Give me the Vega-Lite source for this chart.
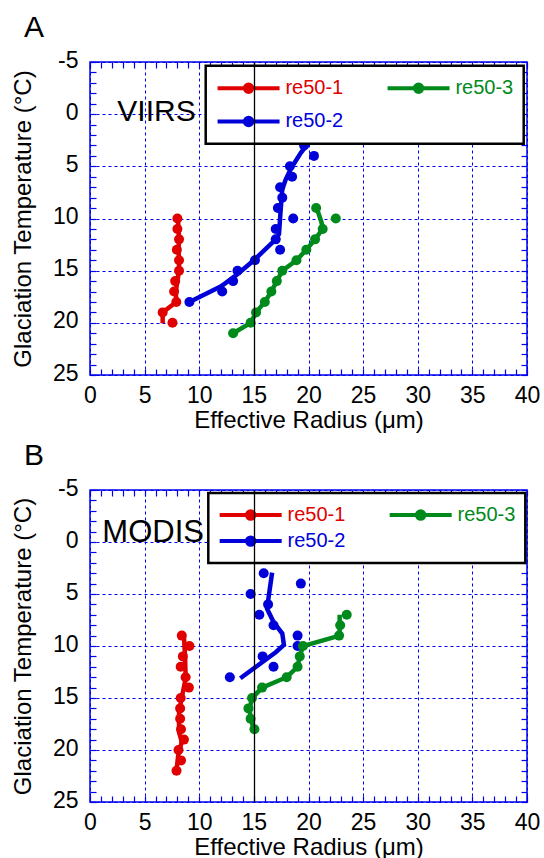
{
  "$schema": "https://vega.github.io/schema/vega-lite/v6.json",
  "background": "white",
  "padding": {"left": 10, "top": 12, "right": 5, "bottom": 0},
  "datasets": {
    "ptsA": [
      {"series": "re50-1", "re": 8.0, "t": 10}, {"series": "re50-1", "re": 8.0, "t": 11}, {"series": "re50-1", "re": 8.15, "t": 12},
      {"series": "re50-1", "re": 7.95, "t": 13}, {"series": "re50-1", "re": 8.15, "t": 14}, {"series": "re50-1", "re": 8.15, "t": 15},
      {"series": "re50-1", "re": 7.8, "t": 16}, {"series": "re50-1", "re": 7.7, "t": 17}, {"series": "re50-1", "re": 7.9, "t": 18},
      {"series": "re50-1", "re": 6.65, "t": 19}, {"series": "re50-1", "re": 7.55, "t": 20},
      {"series": "re50-2", "re": 9.1, "t": 18}, {"series": "re50-2", "re": 12.1, "t": 17}, {"series": "re50-2", "re": 13.1, "t": 16},
      {"series": "re50-2", "re": 13.5, "t": 15}, {"series": "re50-2", "re": 15.1, "t": 14}, {"series": "re50-2", "re": 17.4, "t": 13},
      {"series": "re50-2", "re": 17.0, "t": 12}, {"series": "re50-2", "re": 17.0, "t": 11}, {"series": "re50-2", "re": 18.6, "t": 10},
      {"series": "re50-2", "re": 17.2, "t": 9}, {"series": "re50-2", "re": 17.6, "t": 8}, {"series": "re50-2", "re": 17.4, "t": 7},
      {"series": "re50-2", "re": 18.5, "t": 6}, {"series": "re50-2", "re": 18.3, "t": 5}, {"series": "re50-2", "re": 20.5, "t": 4},
      {"series": "re50-2", "re": 19.6, "t": 3},
      {"series": "re50-3", "re": 20.7, "t": 9}, {"series": "re50-3", "re": 22.5, "t": 10}, {"series": "re50-3", "re": 21.3, "t": 11},
      {"series": "re50-3", "re": 20.6, "t": 12}, {"series": "re50-3", "re": 19.8, "t": 13}, {"series": "re50-3", "re": 18.9, "t": 14},
      {"series": "re50-3", "re": 17.6, "t": 15}, {"series": "re50-3", "re": 17.1, "t": 16}, {"series": "re50-3", "re": 16.6, "t": 17},
      {"series": "re50-3", "re": 16.0, "t": 18}, {"series": "re50-3", "re": 15.2, "t": 19}, {"series": "re50-3", "re": 14.7, "t": 20},
      {"series": "re50-3", "re": 13.1, "t": 21}
    ],
    "fitA": [
      {"series": "re50-1", "re": 8.05, "t": 10}, {"series": "re50-1", "re": 8.1, "t": 11}, {"series": "re50-1", "re": 8.15, "t": 12},
      {"series": "re50-1", "re": 8.1, "t": 13}, {"series": "re50-1", "re": 8.15, "t": 14}, {"series": "re50-1", "re": 8.15, "t": 15},
      {"series": "re50-1", "re": 8.0, "t": 16}, {"series": "re50-1", "re": 7.85, "t": 17}, {"series": "re50-1", "re": 7.9, "t": 18},
      {"series": "re50-1", "re": 6.65, "t": 19}, {"series": "re50-1", "re": 6.65, "t": 20.05},
      {"series": "re50-2", "re": 9.1, "t": 18}, {"series": "re50-2", "re": 12.0, "t": 16.5}, {"series": "re50-2", "re": 13.3, "t": 15.5},
      {"series": "re50-2", "re": 15.0, "t": 14}, {"series": "re50-2", "re": 17.0, "t": 12}, {"series": "re50-2", "re": 17.3, "t": 11.5},
      {"series": "re50-2", "re": 17.45, "t": 9.2}, {"series": "re50-2", "re": 17.6, "t": 7.2}, {"series": "re50-2", "re": 17.9, "t": 6.3},
      {"series": "re50-2", "re": 18.4, "t": 5.2}, {"series": "re50-2", "re": 19.3, "t": 3.7}, {"series": "re50-2", "re": 20.7, "t": 1.8},
      {"series": "re50-2", "re": 21.3, "t": 1.0},
      {"series": "re50-3", "re": 20.75, "t": 9}, {"series": "re50-3", "re": 21.2, "t": 10.4}, {"series": "re50-3", "re": 21.3, "t": 11},
      {"series": "re50-3", "re": 20.6, "t": 12}, {"series": "re50-3", "re": 19.8, "t": 13}, {"series": "re50-3", "re": 18.9, "t": 14},
      {"series": "re50-3", "re": 17.6, "t": 15}, {"series": "re50-3", "re": 17.1, "t": 16}, {"series": "re50-3", "re": 16.6, "t": 17},
      {"series": "re50-3", "re": 16.0, "t": 18}, {"series": "re50-3", "re": 15.2, "t": 19}, {"series": "re50-3", "re": 14.7, "t": 20},
      {"series": "re50-3", "re": 13.1, "t": 21}
    ],
    "ptsB": [
      {"series": "re50-1", "re": 8.4, "t": 9}, {"series": "re50-1", "re": 9.1, "t": 10}, {"series": "re50-1", "re": 8.5, "t": 11},
      {"series": "re50-1", "re": 8.3, "t": 12}, {"series": "re50-1", "re": 8.75, "t": 13}, {"series": "re50-1", "re": 9.05, "t": 14},
      {"series": "re50-1", "re": 8.3, "t": 15}, {"series": "re50-1", "re": 8.25, "t": 16}, {"series": "re50-1", "re": 8.25, "t": 17},
      {"series": "re50-1", "re": 8.33, "t": 18}, {"series": "re50-1", "re": 8.6, "t": 19}, {"series": "re50-1", "re": 8.1, "t": 20},
      {"series": "re50-1", "re": 8.33, "t": 21}, {"series": "re50-1", "re": 7.92, "t": 22},
      {"series": "re50-2", "re": 15.9, "t": 3}, {"series": "re50-2", "re": 19.3, "t": 4}, {"series": "re50-2", "re": 14.7, "t": 5},
      {"series": "re50-2", "re": 16.3, "t": 6}, {"series": "re50-2", "re": 15.5, "t": 7}, {"series": "re50-2", "re": 16.8, "t": 8},
      {"series": "re50-2", "re": 19.0, "t": 9}, {"series": "re50-2", "re": 19.0, "t": 10}, {"series": "re50-2", "re": 15.8, "t": 11},
      {"series": "re50-2", "re": 16.8, "t": 12}, {"series": "re50-2", "re": 12.8, "t": 13},
      {"series": "re50-3", "re": 23.5, "t": 7}, {"series": "re50-3", "re": 22.9, "t": 8}, {"series": "re50-3", "re": 22.8, "t": 9},
      {"series": "re50-3", "re": 19.5, "t": 10}, {"series": "re50-3", "re": 19.2, "t": 11}, {"series": "re50-3", "re": 19.0, "t": 12},
      {"series": "re50-3", "re": 18.0, "t": 13}, {"series": "re50-3", "re": 15.75, "t": 14}, {"series": "re50-3", "re": 14.83, "t": 15},
      {"series": "re50-3", "re": 14.5, "t": 16}, {"series": "re50-3", "re": 14.7, "t": 17}, {"series": "re50-3", "re": 15.05, "t": 18}
    ],
    "fitB": [
      {"series": "re50-1", "re": 8.6, "t": 9.1}, {"series": "re50-1", "re": 8.7, "t": 11}, {"series": "re50-1", "re": 8.76, "t": 13.1},
      {"series": "re50-1", "re": 8.45, "t": 14.7}, {"series": "re50-1", "re": 8.15, "t": 16.3}, {"series": "re50-1", "re": 8.15, "t": 18.3},
      {"series": "re50-1", "re": 8.4, "t": 19.2}, {"series": "re50-1", "re": 8.08, "t": 20.5}, {"series": "re50-1", "re": 7.93, "t": 21.8},
      {"series": "re50-2", "re": 16.67, "t": 2.95}, {"series": "re50-2", "re": 16.2, "t": 6.4}, {"series": "re50-2", "re": 16.8, "t": 7.7},
      {"series": "re50-2", "re": 17.6, "t": 8.8}, {"series": "re50-2", "re": 17.75, "t": 9.9}, {"series": "re50-2", "re": 17.0, "t": 10.6},
      {"series": "re50-2", "re": 13.76, "t": 13.1},
      {"series": "re50-3", "re": 22.85, "t": 7}, {"series": "re50-3", "re": 22.85, "t": 9}, {"series": "re50-3", "re": 19.5, "t": 10},
      {"series": "re50-3", "re": 19.2, "t": 11}, {"series": "re50-3", "re": 19.0, "t": 12}, {"series": "re50-3", "re": 18.0, "t": 13},
      {"series": "re50-3", "re": 15.75, "t": 14}, {"series": "re50-3", "re": 14.85, "t": 15}, {"series": "re50-3", "re": 14.6, "t": 16},
      {"series": "re50-3", "re": 14.7, "t": 17}, {"series": "re50-3", "re": 15.0, "t": 18}
    ]
  },
  "spacing": 7,
  "resolve": {"scale": {"color": "independent"}, "legend": {"color": "independent"}},
  "vconcat": [
    {
      "width": 437, "height": 313,
      "title": {"text": "A", "anchor": "start", "frame": "group", "dx": -66, "offset": 6, "fontSize": 30, "fontWeight": "normal", "font": "Arial", "color": "black"},
      "resolve": {"axis": {"x": "independent", "y": "independent"}},
      "layer": [
        {
          "data": {"name": "fitA"},
          "mark": {"type": "line", "strokeWidth": 4.5},
          "encoding": {
            "x": {"field": "re", "type": "quantitative", "scale": {"domain": [0, 40], "nice": false, "zero": false},
              "axis": {"orient": "top", "values": [0,1,2,3,4,5,6,7,8,9,10,11,12,13,14,15,16,17,18,19,20,21,22,23,24,25,26,27,28,29,30,31,32,33,34,35,36,37,38,39,40], "labels": false, "grid": false, "title": null}},
            "y": {"field": "t", "type": "quantitative", "scale": {"domain": [-5, 25], "reverse": true, "nice": false, "zero": false},
              "axis": {"orient": "right", "values": [-5,-4,-3,-2,-1,0,1,2,3,4,5,6,7,8,9,10,11,12,13,14,15,16,17,18,19,20,21,22,23,24,25], "labels": false, "grid": false, "title": null}},
            "color": {"field": "series", "type": "nominal", "scale": {"domain": ["re50-1", "re50-2", "re50-3"], "range": ["#e00000", "#0000d8", "#008a1c"]},
              "legend": {"title": null, "orient": "none", "legendX": 115.7, "legendY": 3.7, "columns": 2, "columnPadding": 36, "rowPadding": 8.6, "padding": 9.7, "labelFontSize": 20, "labelFont": "Arial", "labelOffset": 45, "strokeColor": "black", "fillColor": "white", "cornerRadius": 0,
                "encode": {
                  "legend": {"update": {"strokeWidth": {"value": 2.5}}},
                  "symbols": {"update": {"shape": {"value": "M-1,0H5M1.64,0A0.36,0.36,0,1,0,2.36,0A0.36,0.36,0,1,0,1.64,0Z"}, "size": {"value": 427}, "strokeWidth": {"value": 4}, "opacity": {"value": 1},
                    "fill": {"signal": "datum.value === 're50-1' ? '#e00000' : datum.value === 're50-2' ? '#0000d8' : '#008a1c'"},
                    "stroke": {"signal": "datum.value === 're50-1' ? '#e00000' : datum.value === 're50-2' ? '#0000d8' : '#008a1c'"}}},
                  "labels": {"update": {"fill": {"signal": "datum.value === 're50-1' ? '#e00000' : datum.value === 're50-2' ? '#0000d8' : '#008a1c'"}}}
                }}},
            "order": {"field": "t", "type": "quantitative"}
          }
        },
        {
          "data": {"name": "ptsA"},
          "mark": {"type": "circle", "size": 100, "opacity": 1},
          "encoding": {
            "x": {"field": "re", "type": "quantitative", "scale": {"domain": [0, 40], "nice": false, "zero": false},
              "axis": {"orient": "bottom", "values": [0,1,2,3,4,5,6,7,8,9,10,11,12,13,14,15,16,17,18,19,20,21,22,23,24,25,26,27,28,29,30,31,32,33,34,35,36,37,38,39,40],
                "labelExpr": "datum.value % 5 === 0 ? '' + datum.value : ''", "grid": true,
                "gridOpacity": {"condition": {"test": "datum.value % 5 === 0", "value": 1}, "value": 0},
                "title": "Effective Radius (μm)", "labelPadding": 15, "titlePadding": 1}},
            "y": {"field": "t", "type": "quantitative", "scale": {"domain": [-5, 25], "reverse": true, "nice": false, "zero": false},
              "axis": {"orient": "left", "values": [-5,-4,-3,-2,-1,0,1,2,3,4,5,6,7,8,9,10,11,12,13,14,15,16,17,18,19,20,21,22,23,24,25],
                "labelExpr": "datum.value % 5 === 0 ? '' + datum.value : ''", "grid": true,
                "gridOpacity": {"condition": {"test": "datum.value % 5 === 0", "value": 1}, "value": 0},
                "title": "Glaciation Temperature (°C)", "labelPadding": 18, "labelOffset": -2, "titlePadding": 17}},
            "color": {"field": "series", "type": "nominal", "scale": {"domain": ["re50-1", "re50-2", "re50-3"], "range": ["#e00000", "#0000d8", "#008a1c"]},
              "legend": {"title": null, "orient": "none", "legendX": 115.7, "legendY": 3.7, "columns": 2, "columnPadding": 36, "rowPadding": 8.6, "padding": 9.7, "labelFontSize": 20, "labelFont": "Arial", "labelOffset": 45, "strokeColor": "black", "fillColor": "white", "cornerRadius": 0,
                "encode": {
                  "legend": {"update": {"strokeWidth": {"value": 2.5}}},
                  "symbols": {"update": {"shape": {"value": "M-1,0H5M1.64,0A0.36,0.36,0,1,0,2.36,0A0.36,0.36,0,1,0,1.64,0Z"}, "size": {"value": 427}, "strokeWidth": {"value": 4}, "opacity": {"value": 1},
                    "fill": {"signal": "datum.value === 're50-1' ? '#e00000' : datum.value === 're50-2' ? '#0000d8' : '#008a1c'"},
                    "stroke": {"signal": "datum.value === 're50-1' ? '#e00000' : datum.value === 're50-2' ? '#0000d8' : '#008a1c'"}}},
                  "labels": {"update": {"fill": {"signal": "datum.value === 're50-1' ? '#e00000' : datum.value === 're50-2' ? '#0000d8' : '#008a1c'"}}}
                }}}
          }
        },
        {
          "data": {"values": [{}]},
          "mark": {"type": "text", "fontSize": 30, "align": "left", "baseline": "alphabetic", "font": "Arial", "color": "black"},
          "encoding": {
            "x": {"datum": 2.5, "type": "quantitative",
              "axis": {"orient": "bottom", "values": [15], "labels": false, "ticks": false, "domain": false, "grid": true, "gridColor": "black", "gridDash": [], "gridWidth": 1.3, "gridOpacity": 1, "title": null, "zindex": 2}},
            "y": {"datum": 0.7, "type": "quantitative", "axis": null},
            "text": {"value": "VIIRS"}
          }
        }
      ]
    },
    {
      "width": 437, "height": 312,
      "title": {"text": "B", "anchor": "start", "frame": "group", "dx": -66, "offset": 6, "fontSize": 30, "fontWeight": "normal", "font": "Arial", "color": "black"},
      "resolve": {"axis": {"x": "independent", "y": "independent"}},
      "layer": [
        {
          "data": {"name": "fitB"},
          "mark": {"type": "line", "strokeWidth": 4.5},
          "encoding": {
            "x": {"field": "re", "type": "quantitative", "scale": {"domain": [0, 40], "nice": false, "zero": false},
              "axis": {"orient": "top", "values": [0,1,2,3,4,5,6,7,8,9,10,11,12,13,14,15,16,17,18,19,20,21,22,23,24,25,26,27,28,29,30,31,32,33,34,35,36,37,38,39,40], "labels": false, "grid": false, "title": null}},
            "y": {"field": "t", "type": "quantitative", "scale": {"domain": [-5, 25], "reverse": true, "nice": false, "zero": false},
              "axis": {"orient": "right", "values": [-5,-4,-3,-2,-1,0,1,2,3,4,5,6,7,8,9,10,11,12,13,14,15,16,17,18,19,20,21,22,23,24,25], "labels": false, "grid": false, "title": null}},
            "color": {"field": "series", "type": "nominal", "scale": {"domain": ["re50-1", "re50-2", "re50-3"], "range": ["#e00000", "#0000d8", "#008a1c"]},
              "legend": {"title": null, "orient": "none", "legendX": 118.3, "legendY": 3, "columns": 2, "columnPadding": 36, "rowPadding": 1.4, "padding": 9.2, "labelFontSize": 20, "labelFont": "Arial", "labelOffset": 45, "strokeColor": "black", "fillColor": "white", "cornerRadius": 0,
                "encode": {
                  "legend": {"update": {"strokeWidth": {"value": 2.5}}},
                  "symbols": {"update": {"shape": {"value": "M-1,0H5M1.64,0A0.36,0.36,0,1,0,2.36,0A0.36,0.36,0,1,0,1.64,0Z"}, "size": {"value": 427}, "strokeWidth": {"value": 4}, "opacity": {"value": 1},
                    "fill": {"signal": "datum.value === 're50-1' ? '#e00000' : datum.value === 're50-2' ? '#0000d8' : '#008a1c'"},
                    "stroke": {"signal": "datum.value === 're50-1' ? '#e00000' : datum.value === 're50-2' ? '#0000d8' : '#008a1c'"}}},
                  "labels": {"update": {"fill": {"signal": "datum.value === 're50-1' ? '#e00000' : datum.value === 're50-2' ? '#0000d8' : '#008a1c'"}}}
                }}},
            "order": {"field": "t", "type": "quantitative"}
          }
        },
        {
          "data": {"name": "ptsB"},
          "mark": {"type": "circle", "size": 100, "opacity": 1},
          "encoding": {
            "x": {"field": "re", "type": "quantitative", "scale": {"domain": [0, 40], "nice": false, "zero": false},
              "axis": {"orient": "bottom", "values": [0,1,2,3,4,5,6,7,8,9,10,11,12,13,14,15,16,17,18,19,20,21,22,23,24,25,26,27,28,29,30,31,32,33,34,35,36,37,38,39,40],
                "labelExpr": "datum.value % 5 === 0 ? '' + datum.value : ''", "grid": true,
                "gridOpacity": {"condition": {"test": "datum.value % 5 === 0", "value": 1}, "value": 0},
                "title": "Effective Radius (μm)", "labelPadding": 15, "titlePadding": 1}},
            "y": {"field": "t", "type": "quantitative", "scale": {"domain": [-5, 25], "reverse": true, "nice": false, "zero": false},
              "axis": {"orient": "left", "values": [-5,-4,-3,-2,-1,0,1,2,3,4,5,6,7,8,9,10,11,12,13,14,15,16,17,18,19,20,21,22,23,24,25],
                "labelExpr": "datum.value % 5 === 0 ? '' + datum.value : ''", "grid": true,
                "gridOpacity": {"condition": {"test": "datum.value % 5 === 0", "value": 1}, "value": 0},
                "title": "Glaciation Temperature (°C)", "labelPadding": 18, "labelOffset": -2, "titlePadding": 17}},
            "color": {"field": "series", "type": "nominal", "scale": {"domain": ["re50-1", "re50-2", "re50-3"], "range": ["#e00000", "#0000d8", "#008a1c"]},
              "legend": {"title": null, "orient": "none", "legendX": 118.3, "legendY": 3, "columns": 2, "columnPadding": 36, "rowPadding": 1.4, "padding": 9.2, "labelFontSize": 20, "labelFont": "Arial", "labelOffset": 45, "strokeColor": "black", "fillColor": "white", "cornerRadius": 0,
                "encode": {
                  "legend": {"update": {"strokeWidth": {"value": 2.5}}},
                  "symbols": {"update": {"shape": {"value": "M-1,0H5M1.64,0A0.36,0.36,0,1,0,2.36,0A0.36,0.36,0,1,0,1.64,0Z"}, "size": {"value": 427}, "strokeWidth": {"value": 4}, "opacity": {"value": 1},
                    "fill": {"signal": "datum.value === 're50-1' ? '#e00000' : datum.value === 're50-2' ? '#0000d8' : '#008a1c'"},
                    "stroke": {"signal": "datum.value === 're50-1' ? '#e00000' : datum.value === 're50-2' ? '#0000d8' : '#008a1c'"}}},
                  "labels": {"update": {"fill": {"signal": "datum.value === 're50-1' ? '#e00000' : datum.value === 're50-2' ? '#0000d8' : '#008a1c'"}}}
                }}}
          }
        },
        {
          "data": {"values": [{}]},
          "mark": {"type": "text", "fontSize": 31, "align": "left", "baseline": "alphabetic", "font": "Arial", "color": "black"},
          "encoding": {
            "x": {"datum": 1.13, "type": "quantitative",
              "axis": {"orient": "bottom", "values": [15], "labels": false, "ticks": false, "domain": false, "grid": true, "gridColor": "black", "gridDash": [], "gridWidth": 1.3, "gridOpacity": 1, "title": null, "zindex": 2}},
            "y": {"datum": 0, "type": "quantitative", "axis": null},
            "text": {"value": "MODIS"}
          }
        }
      ]
    }
  ],
  "config": {
    "font": "Arial",
    "view": {"stroke": "#0000ee", "strokeWidth": 1.5},
    "axis": {
      "domain": false, "tickColor": "#0000ee", "tickSize": -6, "tickWidth": 1.2,
      "gridColor": "#0000ee", "gridDash": [3, 3], "gridWidth": 1,
      "labelFont": "Arial", "labelFontSize": 23, "labelColor": "black",
      "labelFlush": false, "labelOverlap": false,
      "titleFont": "Arial", "titleFontSize": 24, "titleFontWeight": "normal", "titleColor": "black"
    }
  }
}
